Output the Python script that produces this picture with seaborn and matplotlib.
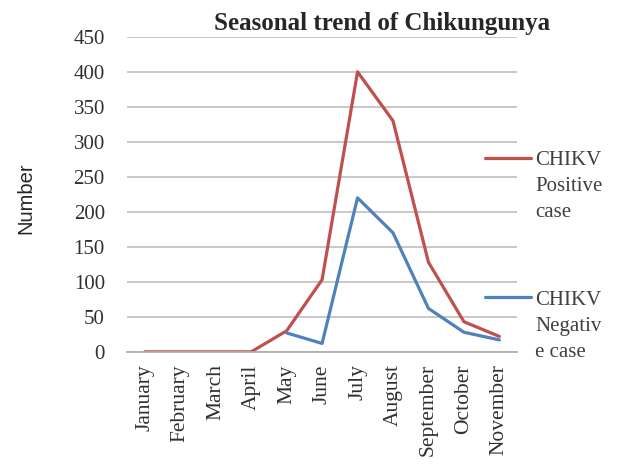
import matplotlib
matplotlib.use("Agg")
import matplotlib.pyplot as plt
from matplotlib.legend_handler import HandlerLine2D
import seaborn as sns
import pandas as pd
import numpy as np

months = ["January", "February", "March", "April", "May", "June", "July",
          "August", "September", "October", "November"]
positive = [0, 0, 0, 0, 30, 103, 400, 330, 128, 43, 22]
negative = [np.nan, np.nan, np.nan, np.nan, 27, 12, 220, 170, 62, 28, 17]
pos_label = "CHIKV\nPositive\ncase"
neg_label = "CHIKV\nNegativ\ne case"
colors = ["#C0504D", "#4F81BD"]

df = pd.concat([
    pd.DataFrame({"month": months, "count": positive, "series": pos_label}),
    pd.DataFrame({"month": months, "count": negative, "series": neg_label}),
], ignore_index=True)

sns.set_style("white")
plt.rcParams["font.family"] = ["Liberation Serif", "DejaVu Serif"]

LEG_FS = 15
LEG_LS = 1.5


# legend line sits next to the first text line, not the middle one
class TopLine(HandlerLine2D):
    def create_artists(self, legend, orig_handle, xdescent, ydescent,
                       width, height, fontsize, trans):
        arts = super().create_artists(legend, orig_handle, xdescent, ydescent,
                                      width, height, fontsize, trans)
        for a in arts:
            a.set_ydata(np.asarray(a.get_ydata()) + fontsize * LEG_LS * 0.93)
        return arts


fig = plt.figure(figsize=(6.23, 4.66), dpi=100)
ax = fig.add_axes([0.204, 0.245, 0.626, 0.676])

sns.lineplot(data=df, x="month", y="count", hue="series",
             palette=colors, linewidth=2.3, ax=ax,
             sort=False, legend=False)

ax.set_ylim(0, 450)
ax.set_yticks(range(0, 451, 50))
ax.set_xlim(-0.5, len(months) - 0.5)
ax.grid(axis="y", color="#C4C4C4", linewidth=1.3)
ax.set_axisbelow(True)
for s in ["top", "right", "left"]:
    ax.spines[s].set_visible(False)
ax.spines["bottom"].set_color("#B0B0B0")
ax.spines["bottom"].set_linewidth(1.3)
ax.tick_params(axis="y", length=0, pad=16, labelsize=15, labelcolor="#303030")
ax.tick_params(axis="x", length=0, pad=9, labelsize=15.5, labelcolor="#303030")
plt.setp(ax.get_xticklabels(), rotation=90)
ax.set_xlabel("")
ax.set_ylabel("")
ax.set_title("Seasonal trend of Chikungunya", fontweight="bold",
             fontsize=18, x=0.655, pad=5)

fig.text(0.042, 0.575, "Number", rotation=90, family="Liberation Sans",
         fontsize=14.5, va="center", ha="center")

handles = [plt.Line2D([], [], color=colors[0], linewidth=2.3),
           plt.Line2D([], [], color=colors[1], linewidth=2.3)]
leg = ax.legend(handles, [pos_label, neg_label], loc="upper left",
                bbox_to_anchor=(0.918, 0.636), frameon=False, fontsize=LEG_FS,
                handlelength=2.2, handletextpad=0.2, labelspacing=3.3,
                borderpad=0, borderaxespad=0,
                handler_map={plt.Line2D: TopLine()})
for t in leg.get_texts():
    t.set_color("#404040")
    t.set_linespacing(LEG_LS)

fig.savefig("out.png", dpi=100)
